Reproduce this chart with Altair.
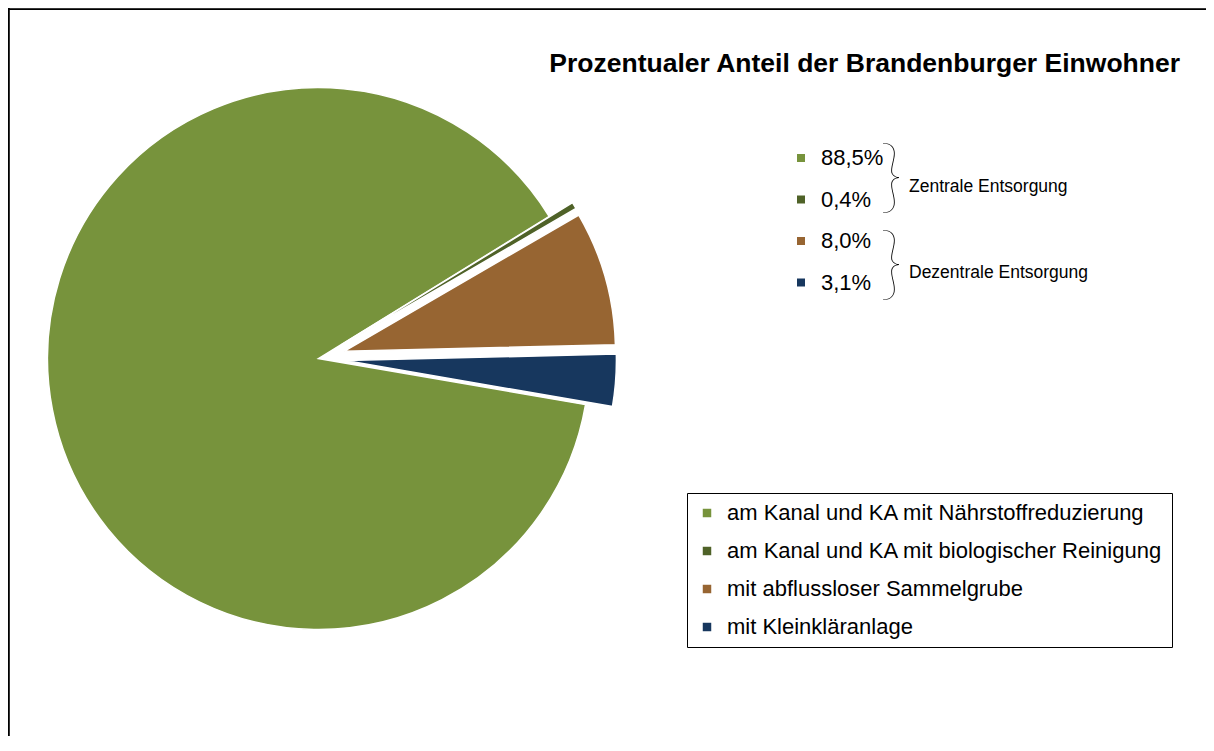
import math
import altair as alt
import pandas as pd

# ---- data ----
categories = [
    "am Kanal und KA mit Nährstoffreduzierung",
    "am Kanal und KA mit biologischer Reinigung",
    "mit abflussloser Sammelgrube",
    "mit Kleinkläranlage",
]
shares = [88.5, 0.4, 8.0, 3.1]
pct_labels = ["88,5%", "0,4%", "8,0%", "3,1%"]
stack_order = [3, 0, 1, 2]          # drawing order of the slices, clockwise
explode = [0, 27, 27, 27]           # slice explosion in px
colors = ["#77933C", "#4F6228", "#976532", "#17375E"]
groups = ["Zentrale Entsorgung", "Dezentrale Entsorgung"]
title_text = "Prozentualer Anteil der Brandenburger Einwohner"

# ---- layout constants ----
W, H = 1198, 728
CX, CY, R = 310.5, 350.5, 271
A0 = math.radians(58.4)
FONT = "Liberation Sans"

pie_df = pd.DataFrame({
    "category": categories,
    "share": shares,
    "order": stack_order,
    "explode": explode,
})

color_scale = alt.Scale(domain=categories, range=colors)

pie = (
    alt.Chart(pie_df)
    .transform_window(cum="sum(share)", sort=[alt.SortField("order")], frame=[None, 0])
    .transform_calculate(start="datum.cum - datum.share", end="datum.cum")
    .transform_calculate(mid=f"{A0} + (datum.start + datum.share / 2) / 100 * 2 * PI")
    .transform_calculate(
        px=f"{CX} + datum.explode * sin(datum.mid)",
        py=f"{CY} - datum.explode * cos(datum.mid)",
    )
    .mark_arc(radius=R, stroke="white", strokeWidth=1.5)
    .encode(
        theta=alt.Theta("start:Q", stack=False,
                        scale=alt.Scale(domain=[0, 100], range=[A0, A0 + 2 * math.pi])),
        theta2="end:Q",
        x=alt.X("px:Q", scale=None),
        y=alt.Y("py:Q", scale=None),
        color=alt.Color(
            "category:N",
            scale=color_scale,
            legend=alt.Legend(
                title=None,
                orient="none",
                legendX=679,
                legendY=485,
                direction="vertical",
                symbolType="square",
                symbolSize=72,
                symbolStrokeWidth=0,
                symbolOpacity=1,
                labelFont=FONT,
                labelFontSize=22,
                labelColor="black",
                labelLimit=800,
                labelOffset=9,
                rowPadding=16,
                padding=9,
                strokeColor="black",
                fillColor="white",
                cornerRadius=0,
            ),
        ),
    )
)

pct_df = pd.DataFrame({"category": categories, "label": pct_labels, "idx": [0, 1, 2, 3]})
pct_base = alt.Chart(pct_df).transform_calculate(py="150 + datum.idx * 41.5")
pct_squares = pct_base.mark_square(size=64, opacity=1).encode(
    x=alt.value(793),
    y=alt.Y("py:Q", scale=None),
    color=alt.Color("category:N", scale=color_scale),
)
pct_text = pct_base.mark_text(
    align="left", baseline="middle", font=FONT, fontSize=22, color="black"
).encode(x=alt.value(813), y=alt.Y("py:Q", scale=None), text="label:N")

grp_df = pd.DataFrame({"group": groups, "gidx": [0, 1]})
grp_base = alt.Chart(grp_df)
braces = grp_base.transform_calculate(
    py="171 + datum.gidx * 86.5", brace="'}'"
).mark_text(
    align="center", baseline="middle", font="Lato", fontWeight=100, fontSize=80, color="black"
).encode(x=alt.value(883), y=alt.Y("py:Q", scale=None), text="brace:N")
grp_text = grp_base.transform_calculate(py="179 + datum.gidx * 86").mark_text(
    align="left", baseline="middle", font=FONT, fontSize=17.5, color="black"
).encode(x=alt.value(901), y=alt.Y("py:Q", scale=None), text="group:N")

title = alt.Chart(pd.DataFrame({"t": [title_text]})).mark_text(
    align="right", baseline="alphabetic", font=FONT, fontSize=26.5, fontWeight="bold", color="black"
).encode(x=alt.value(1172), y=alt.value(64), text="t:N")

frame_left = alt.Chart(pd.DataFrame({"a": [0]})).mark_rule(color="black", strokeWidth=1.8).encode(
    x=alt.value(0.9), y=alt.value(0), y2=alt.value(H)
)
frame_top = alt.Chart(pd.DataFrame({"a": [0]})).mark_rule(color="black", strokeWidth=1.8).encode(
    x=alt.value(0), x2=alt.value(W), y=alt.value(1.2)
)

chart = (
    alt.layer(pie, pct_squares, pct_text, braces, grp_text, title, frame_left, frame_top)
    .properties(width=W, height=H, autosize=alt.AutoSizeParams(type="none"), padding=0)
    .configure_view(stroke=None)
    .configure(background="white")
)

chart.save("out.html", embed_options={"renderer": "svg", "actions": False})
